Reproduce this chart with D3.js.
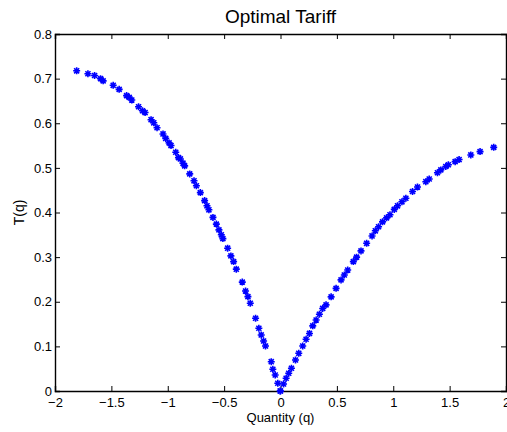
<!DOCTYPE html>
<html>
<head>
<meta charset="utf-8">
<script src="https://cdn.jsdelivr.net/npm/d3@7"></script>
<style>
  body { margin: 0; background: #fff; }
  text { font-family: "Liberation Sans", Arial, sans-serif; fill: #000; }
</style>
</head>
<body>
<div id="chart"></div>
<script>
// quantity q and tariff T(q)
var quantity = [
  -1.808, -1.708, -1.649, -1.596, -1.573, -1.484, -1.431, -1.365, -1.342, -1.319,
  -1.259, -1.224, -1.201, -1.148, -1.124, -1.095, -1.042, -1.018, -0.988, -0.971,
  -0.929, -0.905, -0.888, -0.865, -0.850, -0.805, -0.767, -0.746, -0.711, -0.673,
  -0.652, -0.635, -0.599, -0.569, -0.546, -0.525, -0.511, -0.469, -0.440, -0.416,
  -0.392, -0.339, -0.310, -0.289, -0.268, -0.221, -0.192, -0.171, -0.150, -0.133,
  -0.082, -0.068, -0.047, -0.024, -0.003,
  0.000, 0.027, 0.050, 0.073, 0.097, 0.133, 0.162, 0.197, 0.227, 0.257,
  0.286, 0.316, 0.345, 0.374, 0.404, 0.449, 0.493, 0.537, 0.566, 0.596,
  0.646, 0.675, 0.714, 0.764, 0.812, 0.841, 0.870, 0.905, 0.941, 0.971,
  1.009, 1.038, 1.077, 1.112, 1.171, 1.215, 1.289, 1.319, 1.392, 1.422,
  1.466, 1.489, 1.549, 1.584, 1.688, 1.770, 1.891
];
var tariff = [
  0.7175, 0.711, 0.707, 0.700, 0.695, 0.685, 0.676, 0.662, 0.658, 0.652,
  0.637, 0.628, 0.624, 0.608, 0.601, 0.590, 0.576, 0.566, 0.556, 0.550,
  0.535, 0.523, 0.520, 0.5105, 0.5045, 0.4865, 0.471, 0.460, 0.4446, 0.4267,
  0.415, 0.406, 0.389, 0.374, 0.361, 0.350, 0.3415, 0.320, 0.3027, 0.290,
  0.273, 0.244, 0.224, 0.2114, 0.1966, 0.163, 0.1406, 0.1256, 0.112, 0.1009,
  0.0657, 0.0487, 0.0359, 0.0173, 0.000,
  0.000, 0.0157, 0.0285, 0.0397, 0.0509, 0.0695, 0.0845, 0.1009, 0.116, 0.129,
  0.146, 0.159, 0.172, 0.185, 0.193, 0.211, 0.230, 0.249, 0.260, 0.271,
  0.290, 0.300, 0.314, 0.331, 0.3475, 0.359, 0.368, 0.379, 0.388, 0.395,
  0.407, 0.415, 0.424, 0.432, 0.447, 0.457, 0.469, 0.475, 0.489, 0.4955,
  0.503, 0.507, 0.514, 0.5186, 0.529, 0.5365, 0.546
];
var xTicks = [-2, -1.5, -1, -0.5, 0, 0.5, 1, 1.5, 2];
var yTicks = [0, 0.1, 0.2, 0.3, 0.4, 0.5, 0.6, 0.7, 0.8];

var width = 507, height = 432;
var margin = {top: 34, right: 1, bottom: 41, left: 55};

var svg = d3.select('#chart').append('svg')
    .attr('width', width)
    .attr('height', height);

var x = d3.scaleLinear().domain([-2, 2]).range([margin.left, width - margin.right]);
var y = d3.scaleLinear().domain([0, 0.8]).range([height - margin.bottom, margin.top]);

var fmt = function(d){ return d < 0 ? '\u2212' + Math.abs(d) : String(d); };

// bottom axis, ticks inward
svg.append('g')
    .attr('transform', 'translate(0,' + y(0) + ')')
    .call(d3.axisBottom(x).tickValues(xTicks).tickSize(-5).tickPadding(7).tickFormat(fmt));
// top ticks
svg.append('g')
    .attr('transform', 'translate(0,' + y(0.8) + ')')
    .call(d3.axisTop(x).tickValues(xTicks).tickSize(-5).tickFormat(''));
// left axis
svg.append('g')
    .attr('transform', 'translate(' + x(-2) + ',0)')
    .call(d3.axisLeft(y).tickValues(yTicks).tickSize(-5).tickPadding(3).tickFormat(d3.format('')));
// right ticks
svg.append('g')
    .attr('transform', 'translate(' + x(2) + ',0)')
    .call(d3.axisRight(y).tickValues(yTicks).tickSize(-5).tickFormat(''));

svg.selectAll('.domain').attr('stroke', '#000').attr('stroke-width', 1.4);
svg.selectAll('.tick line').attr('stroke', '#000');
svg.selectAll('.tick text')
    .style('font-size', '13px')
    .style('font-family', '"Liberation Sans", Arial, sans-serif')
    .attr('fill', '#000');

// asterisk markers
var r = 3.5;
var star = 'M' + (-r) + ',0L' + r + ',0M0,' + (-r) + 'L0,' + r +
    'M' + (-r * 0.72) + ',' + (-r * 0.72) + 'L' + (r * 0.72) + ',' + (r * 0.72) +
    'M' + (-r * 0.72) + ',' + (r * 0.72) + 'L' + (r * 0.72) + ',' + (-r * 0.72);

svg.append('g').selectAll('path')
    .data(d3.range(quantity.length))
    .enter().append('path')
    .attr('d', star)
    .attr('transform', function(i){ return 'translate(' + x(quantity[i]) + ',' + y(tariff[i]) + ')'; })
    .attr('fill', 'none')
    .attr('stroke', '#0000ff')
    .attr('stroke-width', 1.6);

svg.append('text')
    .attr('x', (x(-2) + x(2)) / 2)
    .attr('y', 23)
    .attr('text-anchor', 'middle')
    .style('font-size', '19px')
    .text('Optimal Tariff');

svg.append('text')
    .attr('x', (x(-2) + x(2)) / 2)
    .attr('y', 422)
    .attr('text-anchor', 'middle')
    .style('font-size', '13px')
    .text('Quantity (q)');

svg.append('text')
    .attr('transform', 'translate(24,' + ((y(0) + y(0.8)) / 2) + ') rotate(-90)')
    .attr('text-anchor', 'middle')
    .style('font-size', '14px')
    .text('T(q)');
</script>
</body>
</html>
